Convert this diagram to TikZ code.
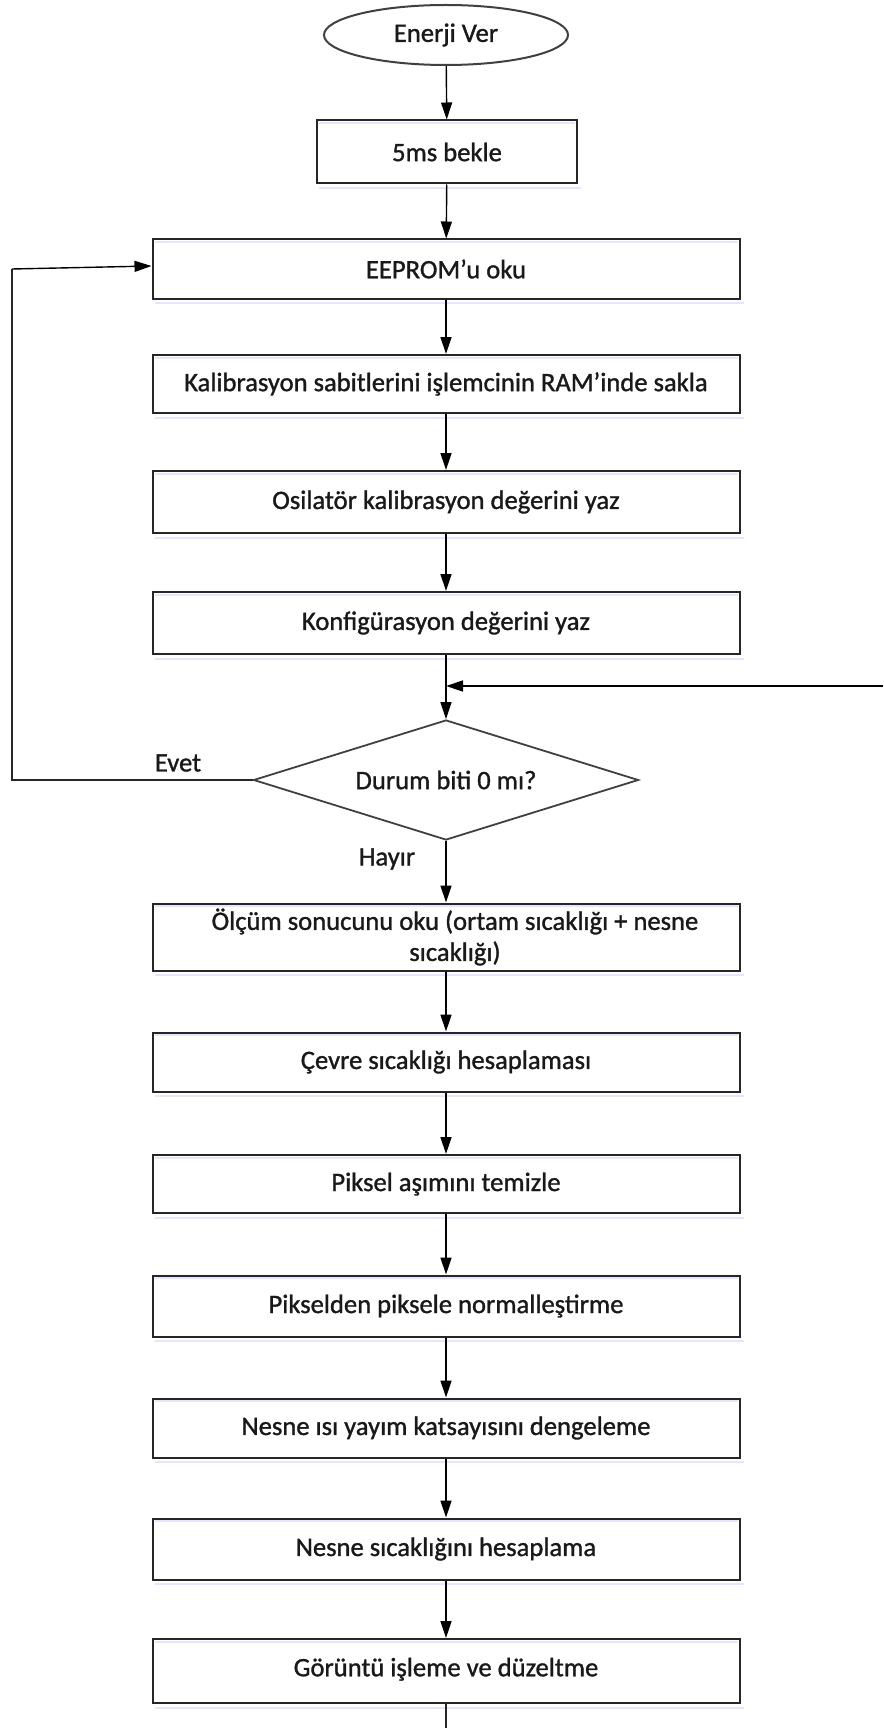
\documentclass[tikz,border=0pt]{standalone}
\usepackage{fontspec}
\setmainfont{Carlito}[FakeBold=1.2,AutoFakeBold=1.2]
\usetikzlibrary{shapes.geometric,arrows.meta}
\begin{document}
\begin{tikzpicture}[x=1pt,y=-1pt,
  every node/.style={font=\fontsize{26.6}{31}\selectfont\bfseries,text=black!90},
  proc/.style={draw=black!85,line width=2pt,minimum width=587pt,minimum height=60pt,inner sep=0pt,align=center},
  term/.style={draw=black!75,line width=2pt,ellipse,minimum width=244pt,minimum height=60pt,inner sep=0pt},
  dec/.style={draw=black!75,line width=1.8pt,diamond,aspect=3.2,minimum width=385pt,minimum height=120pt,inner sep=0pt},
  arr/.style={line width=1.4pt,draw=black,-{Triangle[length=17pt,width=11pt]}},
  ln/.style={line width=1.4pt,draw=black!85},
  shadeln/.style={line width=2pt,draw=blue!10},
  lbl/.style={}]
\useasboundingbox (0,0) rectangle (883,1728);
\node[term] (ell) at (446,35) {Enerji Ver};
\node[proc,minimum width=260pt,minimum height=63pt] (b5) at (447,152) {5ms bekle};
\node[proc,minimum height=59pt] (eep) at (446,269) {EEPROM’u oku};
\node[proc,minimum height=58pt] (kal) at (446,384) {Kalibrasyon sabitlerini işlemcinin RAM’inde sakla};
\node[proc,minimum height=62pt] (osi) at (446,502) {Osilatör kalibrasyon değerini yaz};
\node[proc,minimum height=62pt] (kon) at (446,623) {Konfigürasyon değerini yaz};
\node[dec] (dia) at (446,780) {Durum biti 0 mı?};
\node[proc,minimum height=67pt] (olc) at (446,937) {\hspace*{18pt}Ölçüm sonucunu oku (ortam sıcaklığı + nesne\\\hspace*{18pt}sıcaklığı)};
\node[proc,minimum height=59pt] (cev) at (446,1062) {Çevre sıcaklığı hesaplaması};
\node[proc,minimum height=58pt] (pik) at (446,1184) {Piksel aşımını temizle};
\node[proc,minimum height=61pt] (pks) at (446,1306) {Pikselden piksele normalleştirme};
\node[proc,minimum height=59pt] (nes) at (446,1428) {Nesne ısı yayım katsayısını dengeleme};
\node[proc,minimum height=61pt] (nsc) at (446,1549) {Nesne sıcaklığını hesaplama};
\node[proc,minimum height=64pt] (gor) at (446,1671) {\raisebox{8pt}{Görüntü işleme ve düzeltme}};
\foreach \n in {b5,eep,kal,osi,kon,olc,cev,pik,pks,nes,nsc,gor}{
  \draw[shadeln] ([xshift=3pt,yshift=-3.5pt]\n.north west) -- ([xshift=-3pt,yshift=-3.5pt]\n.north east);
  \draw[shadeln] ([xshift=3pt,yshift=-3.5pt]\n.south west) -- ([xshift=3pt,yshift=-3.5pt]\n.south east);
}
\node[lbl] (evet) at (178,763) {Evet};
\node[lbl] (hayir) at (387,859) {Hayır};
\coordinate (lx) at (12,0);
\coordinate (rin) at (883,686);
\coordinate (bot) at (446,1728);
\draw[arr] (ell) -- (b5);
\draw[arr] (b5) -- (eep);
\draw[arr] (eep) -- (kal);
\draw[arr] (kal) -- (osi);
\draw[arr] (osi) -- (kon);
\draw[arr] (kon) -- (dia);
\draw[arr] (dia) -- (olc);
\draw[arr] (olc) -- (cev);
\draw[arr] (cev) -- (pik);
\draw[arr] (pik) -- (pks);
\draw[arr] (pks) -- (nes);
\draw[arr] (nes) -- (nsc);
\draw[arr] (nsc) -- (gor);
\draw[ln] (gor) -- (bot);
\draw[arr] (rin) -- (rin -| kon.south);
\draw[ln] (dia.west) -- (dia.west -| lx) -- (lx |- eep.west);
\draw[arr] (lx |- eep.west) -- ([yshift=3pt]eep.west) ;
\end{tikzpicture}
\end{document}
